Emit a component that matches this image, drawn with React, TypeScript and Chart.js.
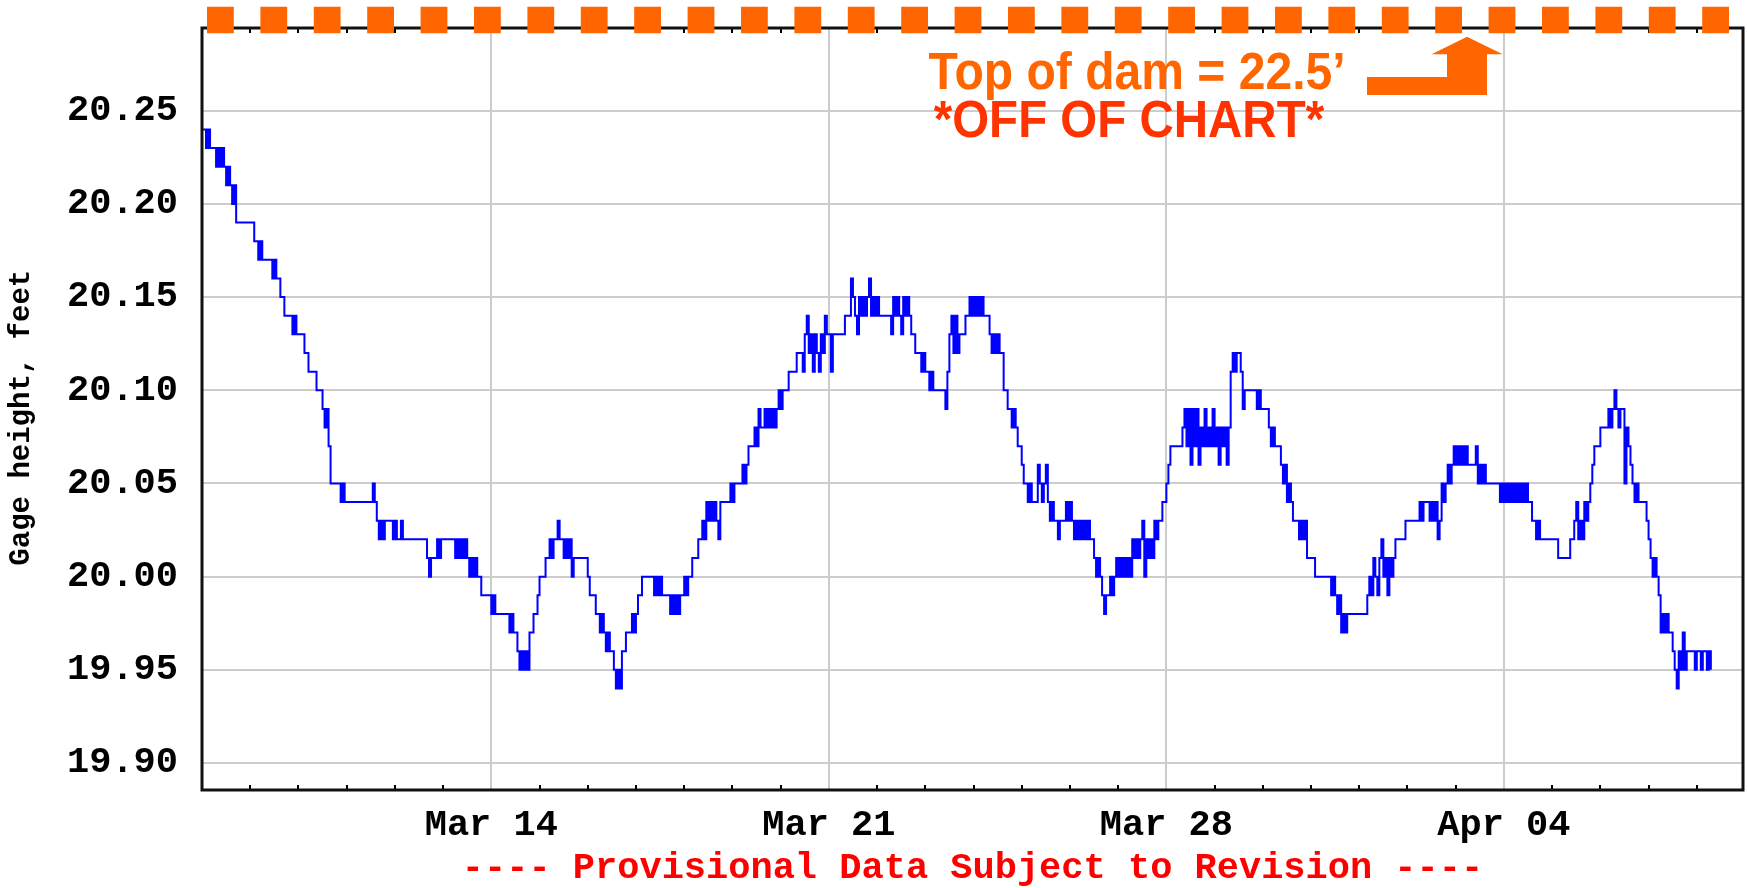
import React, { useEffect, useRef } from 'react';
import { Chart, registerables } from 'chart.js';

Chart.register(...registerables);

// ---- DATA ----
// Hours since Mar 08 00:00, one reading per hour
const firstHour = 0;
const stepHours = 1;
// Gage height (feet), hourly readings, one row per day starting Mar 08
const gageHeight: number[] = [
  // Mar 08
  20.24, 20.24, 20.23, 20.24, 20.23, 20.23, 20.23, 20.22, 20.23, 20.22, 20.23, 20.22, 20.21, 20.22, 20.21, 20.20, 20.21, 20.19, 20.19, 20.19, 20.19, 20.19, 20.19, 20.19,
  // Mar 09
  20.19, 20.19, 20.18, 20.18, 20.17, 20.18, 20.17, 20.17, 20.17, 20.17, 20.17, 20.16, 20.17, 20.16, 20.16, 20.15, 20.15, 20.14, 20.14, 20.14, 20.14, 20.13, 20.14, 20.13,
  // Mar 10
  20.13, 20.13, 20.13, 20.12, 20.12, 20.11, 20.11, 20.11, 20.11, 20.10, 20.10, 20.10, 20.09, 20.08, 20.09, 20.07, 20.05, 20.05, 20.05, 20.05, 20.05, 20.04, 20.05, 20.04,
  // Mar 11
  20.04, 20.04, 20.04, 20.04, 20.04, 20.04, 20.04, 20.04, 20.04, 20.04, 20.04, 20.04, 20.04, 20.05, 20.04, 20.03, 20.02, 20.03, 20.02, 20.03, 20.03, 20.03, 20.03, 20.02,
  // Mar 12
  20.03, 20.02, 20.02, 20.03, 20.02, 20.02, 20.02, 20.02, 20.02, 20.02, 20.02, 20.02, 20.02, 20.02, 20.02, 20.02, 20.01, 20.00, 20.01, 20.01, 20.01, 20.02, 20.01, 20.02,
  // Mar 13
  20.02, 20.02, 20.02, 20.02, 20.02, 20.02, 20.01, 20.02, 20.01, 20.02, 20.01, 20.02, 20.01, 20.00, 20.01, 20.00, 20.01, 20.00, 20.00, 19.99, 19.99, 19.99, 19.99, 19.99,
  // Mar 14
  19.98, 19.99, 19.98, 19.98, 19.98, 19.98, 19.98, 19.98, 19.98, 19.97, 19.98, 19.97, 19.97, 19.96, 19.95, 19.96, 19.95, 19.96, 19.95, 19.97, 19.97, 19.98, 19.98, 19.99,
  // Mar 15
  20.00, 20.00, 20.00, 20.01, 20.01, 20.02, 20.01, 20.02, 20.02, 20.03, 20.02, 20.02, 20.01, 20.02, 20.01, 20.02, 20.00, 20.01, 20.01, 20.01, 20.01, 20.01, 20.01, 20.01,
  // Mar 16
  20.00, 19.99, 19.99, 19.99, 19.98, 19.98, 19.97, 19.98, 19.97, 19.96, 19.97, 19.96, 19.96, 19.95, 19.94, 19.95, 19.94, 19.96, 19.96, 19.97, 19.97, 19.97, 19.98, 19.97,
  // Mar 17
  19.98, 19.99, 19.99, 20.00, 20.00, 20.00, 20.00, 20.00, 20.00, 19.99, 20.00, 19.99, 20.00, 19.99, 19.99, 19.99, 19.99, 19.98, 19.99, 19.98, 19.99, 19.98, 19.99, 19.99,
  // Mar 18
  20.00, 19.99, 20.00, 20.00, 20.01, 20.01, 20.01, 20.02, 20.02, 20.03, 20.02, 20.04, 20.03, 20.04, 20.03, 20.04, 20.03, 20.02, 20.04, 20.04, 20.04, 20.04, 20.04, 20.05,
  // Mar 19
  20.04, 20.05, 20.05, 20.05, 20.05, 20.06, 20.05, 20.06, 20.07, 20.07, 20.07, 20.08, 20.07, 20.09, 20.08, 20.08, 20.09, 20.08, 20.09, 20.08, 20.09, 20.08, 20.09, 20.10,
  // Mar 20
  20.09, 20.10, 20.10, 20.10, 20.11, 20.11, 20.11, 20.11, 20.12, 20.12, 20.12, 20.11, 20.13, 20.14, 20.12, 20.13, 20.11, 20.13, 20.12, 20.11, 20.13, 20.12, 20.14, 20.13,
  // Mar 21
  20.13, 20.11, 20.13, 20.13, 20.13, 20.13, 20.13, 20.13, 20.14, 20.14, 20.14, 20.16, 20.15, 20.14, 20.13, 20.15, 20.14, 20.15, 20.14, 20.15, 20.16, 20.14, 20.15, 20.14,
  // Mar 22
  20.15, 20.14, 20.14, 20.14, 20.14, 20.14, 20.14, 20.13, 20.15, 20.14, 20.15, 20.14, 20.13, 20.15, 20.14, 20.15, 20.14, 20.13, 20.13, 20.12, 20.12, 20.12, 20.11, 20.12,
  // Mar 23
  20.11, 20.11, 20.10, 20.11, 20.10, 20.10, 20.10, 20.10, 20.10, 20.10, 20.09, 20.11, 20.13, 20.14, 20.12, 20.14, 20.12, 20.13, 20.13, 20.13, 20.14, 20.14, 20.15, 20.14,
  // Mar 24
  20.15, 20.14, 20.15, 20.14, 20.15, 20.14, 20.14, 20.14, 20.13, 20.12, 20.13, 20.12, 20.13, 20.12, 20.12, 20.10, 20.10, 20.09, 20.09, 20.08, 20.09, 20.08, 20.07, 20.07,
  // Mar 25
  20.06, 20.05, 20.05, 20.04, 20.05, 20.04, 20.04, 20.04, 20.06, 20.05, 20.04, 20.05, 20.06, 20.04, 20.03, 20.04, 20.03, 20.03, 20.02, 20.03, 20.03, 20.03, 20.04, 20.03,
  // Mar 26
  20.04, 20.03, 20.02, 20.03, 20.02, 20.03, 20.02, 20.03, 20.02, 20.03, 20.02, 20.02, 20.01, 20.00, 20.01, 20.00, 19.99, 19.98, 19.99, 19.99, 20.00, 19.99, 20.00, 20.01,
  // Mar 27
  20.00, 20.01, 20.00, 20.01, 20.00, 20.01, 20.00, 20.02, 20.01, 20.02, 20.01, 20.02, 20.03, 20.00, 20.02, 20.01, 20.02, 20.01, 20.03, 20.02, 20.03, 20.03, 20.04, 20.04,
  // Mar 28
  20.05, 20.06, 20.07, 20.07, 20.07, 20.07, 20.07, 20.07, 20.08, 20.09, 20.07, 20.09, 20.06, 20.09, 20.07, 20.09, 20.06, 20.08, 20.07, 20.09, 20.07, 20.08, 20.07, 20.09,
  // Mar 29
  20.07, 20.08, 20.06, 20.08, 20.07, 20.08, 20.06, 20.08, 20.11, 20.12, 20.11, 20.12, 20.12, 20.11, 20.09, 20.10, 20.10, 20.10, 20.10, 20.10, 20.10, 20.09, 20.10, 20.09,
  // Mar 30
  20.09, 20.09, 20.09, 20.08, 20.07, 20.08, 20.07, 20.07, 20.07, 20.06, 20.05, 20.06, 20.04, 20.05, 20.04, 20.03, 20.03, 20.03, 20.02, 20.03, 20.02, 20.03, 20.01, 20.01,
  // Mar 31
  20.01, 20.01, 20.00, 20.00, 20.00, 20.00, 20.00, 20.00, 20.00, 20.00, 19.99, 20.00, 19.99, 19.98, 19.99, 19.97, 19.98, 19.97, 19.98, 19.98, 19.98, 19.98, 19.98, 19.98,
  // Apr 01
  19.98, 19.98, 19.98, 19.98, 19.99, 20.00, 19.99, 20.01, 20.00, 19.99, 20.01, 20.02, 20.00, 20.01, 19.99, 20.01, 20.00, 20.01, 20.02, 20.02, 20.02, 20.02, 20.02, 20.03,
  // Apr 02
  20.03, 20.03, 20.03, 20.03, 20.03, 20.03, 20.04, 20.03, 20.04, 20.04, 20.04, 20.03, 20.04, 20.03, 20.04, 20.02, 20.03, 20.05, 20.04, 20.05, 20.06, 20.05, 20.06, 20.07,
  // Apr 03
  20.06, 20.07, 20.06, 20.07, 20.06, 20.07, 20.06, 20.06, 20.06, 20.06, 20.07, 20.05, 20.06, 20.05, 20.06, 20.05, 20.05, 20.05, 20.05, 20.05, 20.05, 20.05, 20.04, 20.05,
  // Apr 04
  20.04, 20.05, 20.04, 20.05, 20.04, 20.05, 20.04, 20.05, 20.04, 20.05, 20.04, 20.05, 20.04, 20.04, 20.03, 20.03, 20.02, 20.03, 20.02, 20.02, 20.02, 20.02, 20.02, 20.02,
  // Apr 05
  20.02, 20.02, 20.02, 20.01, 20.01, 20.01, 20.01, 20.01, 20.01, 20.02, 20.02, 20.03, 20.04, 20.02, 20.03, 20.02, 20.04, 20.03, 20.04, 20.05, 20.06, 20.07, 20.07, 20.07,
  // Apr 06
  20.08, 20.08, 20.08, 20.08, 20.09, 20.08, 20.09, 20.10, 20.09, 20.08, 20.09, 20.09, 20.05, 20.08, 20.07, 20.06, 20.05, 20.04, 20.05, 20.04, 20.04, 20.04, 20.04, 20.03,
  // Apr 07
  20.02, 20.01, 20.00, 20.01, 20.00, 19.99, 19.97, 19.98, 19.97, 19.98, 19.97, 19.97, 19.96, 19.95, 19.94, 19.96, 19.95, 19.97, 19.95, 19.96, 19.96, 19.96, 19.96, 19.95,
  // Apr 08
  19.96, 19.96, 19.95, 19.96, 19.96, 19.95, 19.96, 19.95,
];

const xMinHour = 0;
const xMaxHour = 767;
const weekTickHours = [144, 312, 480, 648];
const weekTickLabels = ['Mar 14', 'Mar 21', 'Mar 28', 'Apr 04'];
const yMin = 19.8855;
const yMax = 20.2944;
const yTickValues = [19.9, 19.95, 20.0, 20.05, 20.1, 20.15, 20.2, 20.25];
const yTickLabels = ['19.90', '19.95', '20.00', '20.05', '20.10', '20.15', '20.20', '20.25'];

const yTitle = 'Gage height, feet';
const xTitle = '---- Provisional Data Subject to Revision ----';
const damText = 'Top of dam = 22.5\u2019';
const offChartText = '*OFF OF CHART*';

const monoFont = '"Liberation Mono", "DejaVu Sans Mono", monospace';

function drawFitted(
  ctx: CanvasRenderingContext2D,
  text: string,
  left: number,
  baseline: number,
  width: number,
  capHeight: number,
  color: string,
) {
  const family = '"Liberation Sans", Arial, sans-serif';
  ctx.font = `bold 100px ${family}`;
  const capAt100 = ctx.measureText('H').actualBoundingBoxAscent || 71.6;
  const size = (capHeight / capAt100) * 100;
  ctx.font = `bold ${size}px ${family}`;
  const m = ctx.measureText(text);
  const inkW = m.actualBoundingBoxRight + m.actualBoundingBoxLeft;
  const sx = width / inkW;
  ctx.save();
  ctx.translate(left + m.actualBoundingBoxLeft * sx, baseline);
  ctx.scale(sx, 1);
  ctx.fillStyle = color;
  ctx.textBaseline = 'alphabetic';
  ctx.textAlign = 'left';
  ctx.fillText(text, 0, 0);
  ctx.restore();
}

const framePlugin = {
  id: 'frameAndMinorTicks',
  afterDatasetsDraw(chart: any) {
    const { ctx, chartArea: a, scales } = chart;
    const xs = scales.x;
    ctx.save();
    ctx.strokeStyle = '#000';
    ctx.lineWidth = 2;
    ctx.beginPath();
    for (let h = 24; h < xMaxHour; h += 24) {
      if (weekTickHours.includes(h)) continue;
      const px = Math.round(xs.getPixelForValue(h));
      ctx.moveTo(px, a.bottom);
      ctx.lineTo(px, a.bottom - 5);
      ctx.moveTo(px, a.top);
      ctx.lineTo(px, a.top + 5);
    }
    ctx.stroke();
    ctx.lineWidth = 3;
    ctx.strokeStyle = '#111';
    ctx.strokeRect(a.left, a.top, a.right - a.left, a.bottom - a.top);
    ctx.restore();
  },
};

const damPlugin = {
  id: 'damAnnotation',
  afterDraw(chart: any) {
    const { ctx, chartArea: a } = chart;
    ctx.save();
    // dashed "top of dam" marker along the top edge
    ctx.strokeStyle = '#ff6600';
    ctx.lineWidth = 26.6;
    ctx.lineCap = 'butt';
    ctx.setLineDash([26.8, 26.6]);
    ctx.beginPath();
    ctx.moveTo(a.left + 5, 20);
    ctx.lineTo(a.left + 5 + 28 * 53.4 + 26.8, 20);
    ctx.stroke();
    ctx.setLineDash([]);

    drawFitted(ctx, damText, 928.6, 89.3, 414, 36, '#ff6600');
    drawFitted(ctx, offChartText, 933.7, 136.7, 391, 36.7, '#ff3300');

    // bent arrow pointing up to the dashed marker
    ctx.fillStyle = '#ff6600';
    ctx.beginPath();
    ctx.moveTo(1367, 77);
    ctx.lineTo(1447, 77);
    ctx.lineTo(1447, 54.3);
    ctx.lineTo(1431.6, 54.3);
    ctx.lineTo(1467, 36.7);
    ctx.lineTo(1502.7, 54.3);
    ctx.lineTo(1487, 54.3);
    ctx.lineTo(1487, 95);
    ctx.lineTo(1367, 95);
    ctx.closePath();
    ctx.fill();
    ctx.restore();
  },
};

export default function App() {
  const canvasRef = useRef<HTMLCanvasElement>(null);

  useEffect(() => {
    document.body.style.margin = '0';
    const canvas = canvasRef.current;
    if (!canvas) return;
    const points = gageHeight.map((y, i) => ({ x: firstHour + i * stepHours, y }));
    const chart = new Chart(canvas, {
      type: 'line',
      data: {
        datasets: [
          {
            label: 'Gage height',
            data: points,
            borderColor: '#0000ff',
            borderWidth: 2,
            pointRadius: 0,
            stepped: 'before',
            fill: false,
          },
        ],
      },
      options: {
        responsive: false,
        animation: false,
        devicePixelRatio: 1,
        layout: { padding: { top: 28, right: 5, left: 0, bottom: 0 } },
        plugins: {
          legend: { display: false },
          tooltip: { enabled: false },
        },
        scales: {
          x: {
            type: 'linear',
            min: xMinHour,
            max: xMaxHour,
            afterBuildTicks: (s: any) => {
              s.ticks = weekTickHours.map((v) => ({ value: v }));
            },
            afterFit: (s: any) => {
              s.height = 98;
              s.paddingLeft = 0;
              s.paddingRight = 0;
            },
            ticks: {
              autoSkip: false,
              maxRotation: 0,
              minRotation: 0,
              padding: 13,
              color: '#000',
              font: { family: monoFont, size: 37, weight: 'bold' },
              callback: (value: any) => weekTickLabels[weekTickHours.indexOf(Number(value))] ?? '',
            },
            grid: { color: '#cccccc', lineWidth: 2, drawTicks: false },
            border: { display: false },
            title: {
              display: true,
              text: xTitle,
              color: '#ff0000',
              font: { family: monoFont, size: 37, weight: 'bold', lineHeight: 1.05 },
              padding: 0,
            },
          },
          y: {
            type: 'linear',
            min: yMin,
            max: yMax,
            afterBuildTicks: (s: any) => {
              s.ticks = yTickValues.map((v) => ({ value: v }));
            },
            afterFit: (s: any) => {
              s.width = 202;
              s.paddingTop = 0;
              s.paddingBottom = 0;
            },
            ticks: {
              padding: 24,
              color: '#000',
              font: { family: monoFont, size: 37, weight: 'bold' },
              callback: (value: any) => yTickLabels[yTickValues.indexOf(Number(value))] ?? '',
            },
            grid: { color: '#cccccc', lineWidth: 2, drawTicks: false },
            border: { display: false },
            title: {
              display: true,
              text: yTitle + ' ',
              color: '#000',
              font: { family: monoFont, size: 29, weight: 'bold' },
              padding: { top: 4, bottom: 0 },
            },
          },
        },
      },
      plugins: [framePlugin, damPlugin],
    } as any);
    return () => chart.destroy();
  }, []);

  return (
    <div style={{ width: 1748, height: 888, background: '#ffffff' }}>
      <canvas
        ref={canvasRef}
        width={1748}
        height={888}
        style={{ display: 'block', width: 1748, height: 888 }}
      />
    </div>
  );
}
